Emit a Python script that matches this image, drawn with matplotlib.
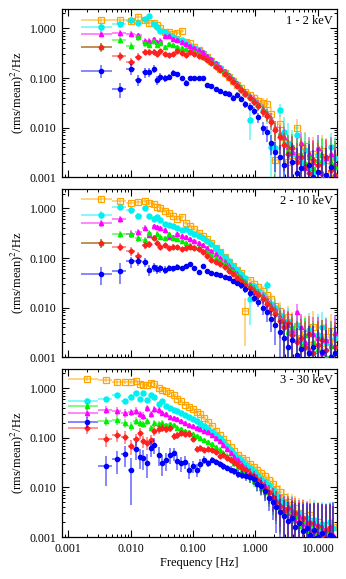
import numpy as np
import matplotlib
matplotlib.use("Agg")
import matplotlib.pyplot as plt
import matplotlib.ticker as ticker
from matplotlib.colors import to_rgba

plt.rcParams['font.family'] = ['Liberation Serif', 'DejaVu Serif']
plt.rcParams['mathtext.fontset'] = 'stix'

# frequency bins (Hz)
FREQ_A = [0.0033, 0.0067, 0.010, 0.0133, 0.0167, 0.020, 0.0233, 0.0267, 0.030, 0.035,
          0.041, 0.048, 0.056, 0.066, 0.077, 0.090, 0.105, 0.123, 0.144, 0.168,
          0.197, 0.23, 0.27, 0.32, 0.37, 0.43, 0.51, 0.59, 0.69, 0.81,
          0.95, 1.11, 1.30, 1.52, 1.78, 2.08, 2.43, 2.85, 3.33, 3.9,
          4.56, 5.3, 6.2, 7.3, 8.5, 10.0, 11.7, 13.7, 16.0, 18.7]
FREQ_B = [0.002, 0.004, 0.006, 0.008, 0.010, 0.012, 0.014, 0.016, 0.018, 0.021,
          0.024, 0.028, 0.032, 0.037, 0.043, 0.049, 0.056, 0.065, 0.075, 0.086,
          0.099, 0.114, 0.131, 0.151, 0.174, 0.20, 0.23, 0.265, 0.305, 0.35,
          0.40, 0.46, 0.53, 0.61, 0.70, 0.81, 0.93, 1.07, 1.23, 1.42,
          1.63, 1.88, 2.16, 2.48, 2.86, 3.3, 3.8, 4.35, 5.0, 5.8,
          6.6, 7.6, 8.8, 10.1, 11.6, 13.4, 15.4, 17.7]

PANEL_LABELS = ['1 - 2 keV', '2 - 10 keV', '3 - 30 keV']
COLORS = ['#ffa500', '#00f0f0', '#ff00ff', '#00ee00', '#ff2020', '#0000ff']
MARKERS = ['s', 'o', '^', '^', 'D', 'o']

# ---- panel 1: 1 - 2 keV  (power, error in %)
P1_ORANGE = [1.45, 1.48, 1.40, 1.68, 1.45, 1.28, 1.28, 1.18, 1.02, 0.84,
             0.86, 0.76, 0.80, 0.88, 0.52, 0.50, 0.42, 0.36, 0.31, 0.26,
             0.22, 0.18, 0.15, 0.125, 0.105, 0.088, 0.072, 0.062, 0.052, 0.046,
             0.040, 0.034, 0.031, 0.030, 0.019, 0.0022, 0.012, 0.0065, 0.0020, 0.0028,
             0.0100, 0.0027, 0.0042, 0.0018, 0.0030, 0.0016, 0.0034, 0.0022, 0.0012, 0.0026]
P1_ORANGE_ERR = [18, 15, 15, 12, 12, 12, 12, 12, 12, 10,
                 10, 10, 10, 10, 10, 10, 10, 10, 10, 10,
                 10, 10, 10, 11, 12, 12, 13, 14, 15, 16,
                 18, 20, 25, 30, 40, 200, 50, 80, 200, 150,
                 50, 150, 90, 200, 120, 250, 110, 180, 300, 150]
P1_CYAN = [1.05, 1.20, 1.45, 1.30, 1.55, 1.75, 1.20, 1.05, 0.90, 0.85,
           0.72, 0.68, 0.62, 0.58, 0.50, 0.45, 0.40, 0.36, 0.32, 0.27,
           0.23, 0.19, 0.16, 0.13, 0.11, 0.090, 0.072, 0.058, 0.048, 0.014,
           0.034, 0.028, 0.022, 0.018, 0.0040, 0.0038, 0.023, 0.0080, 0.0050, 0.0030,
           0.0070, 0.0020, 0.0035, 0.0015, 0.0012, 0.0028, 0.0020, 0.0009, 0.0040, 0.0024]
P1_CYAN_ERR = [15, 15, 15, 12, 12, 10, 12, 12, 12, 10,
               10, 10, 10, 10, 10, 10, 10, 10, 10, 10,
               10, 10, 10, 11, 12, 12, 13, 14, 15, 60,
               18, 22, 25, 35, 150, 150, 30, 100, 150, 200,
               60, 200, 120, 250, 300, 150, 200, 350, 90, 160]
P1_MAGENTA = [0.78, 0.80, 0.78, 0.72, 0.56, 0.55, 0.60, 0.53, 0.56, 0.70,
              0.70, 0.62, 0.58, 0.52, 0.48, 0.44, 0.40, 0.37, 0.33, 0.28,
              0.24, 0.20, 0.17, 0.14, 0.115, 0.095, 0.078, 0.063, 0.052, 0.043,
              0.036, 0.030, 0.024, 0.019, 0.015, 0.010, 0.0075, 0.0065, 0.0040, 0.0032,
              0.0025, 0.0048, 0.0015, 0.0030, 0.0020, 0.0038, 0.0012, 0.0024, 0.0030, 0.0018]
P1_MAGENTA_ERR = [15, 15, 14, 14, 14, 14, 12, 12, 12, 10,
                  10, 10, 10, 10, 10, 10, 10, 10, 10, 10,
                  10, 10, 10, 11, 12, 12, 13, 14, 15, 16,
                  18, 20, 22, 25, 30, 35, 50, 60, 80, 100,
                  150, 70, 200, 120, 180, 90, 250, 150, 120, 200]
P1_GREEN = [0.43, 0.58, 0.45, 0.66, 0.50, 0.47, 0.55, 0.46, 0.50, 0.42,
            0.48, 0.46, 0.42, 0.40, 0.38, 0.35, 0.33, 0.30, 0.27, 0.24,
            0.21, 0.18, 0.15, 0.13, 0.11, 0.090, 0.075, 0.062, 0.051, 0.042,
            0.035, 0.029, 0.023, 0.018, 0.014, 0.0095, 0.0070, 0.0050, 0.0035, 0.0042,
            0.0022, 0.0030, 0.0019, 0.0026, 0.0015, 0.0022, 0.0028, 0.0011, 0.0020, 0.0016]
P1_GREEN_ERR = [20, 16, 16, 14, 14, 14, 12, 12, 12, 12,
                11, 10, 10, 10, 10, 10, 10, 10, 10, 10,
                10, 10, 10, 11, 12, 12, 13, 14, 15, 16,
                18, 20, 22, 25, 30, 40, 50, 70, 90, 80,
                150, 110, 180, 130, 220, 160, 120, 300, 190, 230]
P1_RED = [0.42, 0.28, 0.21, 0.27, 0.34, 0.34, 0.34, 0.30, 0.35, 0.30,
          0.29, 0.30, 0.35, 0.32, 0.29, 0.33, 0.30, 0.28, 0.26, 0.23,
          0.20, 0.17, 0.145, 0.12, 0.10, 0.085, 0.070, 0.058, 0.048, 0.040,
          0.033, 0.027, 0.021, 0.017, 0.013, 0.0090, 0.0065, 0.0045, 0.0030, 0.0038,
          0.0020, 0.0026, 0.0016, 0.0012, 0.0022, 0.0018, 0.0009, 0.0025, 0.0014, 0.0011]
P1_RED_ERR = [20, 20, 18, 16, 15, 14, 13, 12, 12, 12,
              11, 10, 10, 10, 10, 10, 10, 10, 10, 10,
              10, 10, 10, 11, 12, 12, 13, 14, 15, 16,
              18, 20, 22, 25, 30, 40, 55, 70, 100, 80,
              150, 120, 190, 250, 140, 170, 300, 130, 200, 260]
P1_BLUE = [0.14, 0.060, 0.155, 0.093, 0.130, 0.130, 0.155, 0.090, 0.105, 0.098,
           0.105, 0.128, 0.118, 0.098, 0.080, 0.100, 0.098, 0.102, 0.100, 0.072,
           0.068, 0.060, 0.055, 0.050, 0.048, 0.040, 0.046, 0.038, 0.030, 0.026,
           0.022, 0.016, 0.010, 0.0080, 0.0050, 0.0032, 0.0025, 0.0018, 0.0009, 0.0020,
           0.0012, 0.0015, 0.0008, 0.0018, 0.0010, 0.0013, 0.0007, 0.0011, 0.0016, 0.0009]
P1_BLUE_ERR = [30, 35, 25, 25, 22, 20, 20, 20, 18, 16,
               15, 14, 13, 12, 12, 11, 10, 10, 10, 10,
               10, 10, 10, 11, 12, 12, 13, 14, 16, 18,
               20, 22, 28, 35, 45, 60, 80, 120, 250, 140,
               220, 180, 300, 160, 260, 200, 350, 250, 180, 300]

# ---- panel 2: 2 - 10 keV
P2_ORANGE = [1.52, 1.40, 1.32, 1.33, 1.42, 1.30, 1.25, 1.08, 1.00, 0.90,
             0.80, 0.70, 0.62, 0.66, 0.52, 0.44, 0.38, 0.32, 0.28, 0.24,
             0.20, 0.16, 0.13, 0.105, 0.085, 0.070, 0.058, 0.050, 0.0085, 0.036,
             0.030, 0.026, 0.022, 0.018, 0.015, 0.011, 0.0085, 0.0050, 0.0065, 0.0032,
             0.0042, 0.0025, 0.0030, 0.0018, 0.0040, 0.0022, 0.0015, 0.0026, 0.0034, 0.0020]
P2_ORANGE_ERR = [12, 12, 12, 10, 10, 10, 10, 10, 10, 10,
                 10, 10, 10, 10, 10, 10, 10, 10, 10, 10,
                 10, 10, 10, 11, 12, 12, 13, 14, 80, 16,
                 18, 20, 22, 25, 30, 40, 55, 90, 70, 150,
                 100, 180, 130, 250, 110, 190, 280, 150, 120, 200]
P2_CYAN = [0.75, 1.08, 0.92, 0.70, 1.00, 0.70, 0.62, 0.66, 0.58, 0.48,
           0.46, 0.44, 0.40, 0.36, 0.38, 0.34, 0.30, 0.28, 0.25, 0.22,
           0.19, 0.16, 0.13, 0.105, 0.086, 0.070, 0.057, 0.047, 0.039, 0.015,
           0.027, 0.022, 0.018, 0.028, 0.012, 0.010, 0.0070, 0.0040, 0.0055, 0.0030,
           0.0045, 0.0022, 0.0016, 0.0035, 0.0012, 0.0028, 0.0040, 0.0019, 0.0010, 0.0025]
P2_CYAN_ERR = [18, 14, 14, 14, 12, 12, 12, 12, 12, 10,
               10, 10, 10, 10, 10, 10, 10, 10, 10, 10,
               10, 10, 10, 11, 12, 12, 13, 14, 15, 70,
               18, 20, 25, 22, 35, 40, 60, 110, 80, 160,
               90, 200, 280, 120, 300, 160, 100, 220, 350, 180]
P2_MAGENTA = [0.50, 0.60, 0.31, 0.33, 0.40, 0.29, 0.44, 0.42, 0.40, 0.36,
              0.27, 0.26, 0.30, 0.28, 0.26, 0.24, 0.22, 0.20, 0.18, 0.16,
              0.14, 0.12, 0.10, 0.085, 0.070, 0.058, 0.048, 0.040, 0.033, 0.028,
              0.024, 0.020, 0.017, 0.014, 0.011, 0.0090, 0.0065, 0.0055, 0.0045, 0.0035,
              0.0080, 0.0040, 0.0020, 0.0014, 0.0030, 0.0025, 0.0012, 0.0022, 0.0018, 0.0031]
P2_MAGENTA_ERR = [16, 15, 18, 16, 14, 14, 12, 12, 12, 12,
                  11, 10, 10, 10, 10, 10, 10, 10, 10, 10,
                  10, 10, 10, 11, 12, 12, 13, 14, 15, 16,
                  18, 20, 22, 25, 30, 35, 50, 60, 90, 110,
                  50, 90, 150, 220, 120, 160, 280, 170, 200, 120]
P2_GREEN = [0.20, 0.30, 0.31, 0.25, 0.23, 0.32, 0.26, 0.31, 0.27, 0.25,
            0.30, 0.25, 0.24, 0.22, 0.20, 0.18, 0.17, 0.16, 0.14, 0.13,
            0.115, 0.10, 0.088, 0.075, 0.064, 0.054, 0.045, 0.038, 0.032, 0.027,
            0.023, 0.019, 0.016, 0.013, 0.010, 0.0080, 0.0060, 0.0045, 0.0032, 0.0040,
            0.0022, 0.0018, 0.0028, 0.0012, 0.0020, 0.0015, 0.0024, 0.0010, 0.0017, 0.0013]
P2_GREEN_ERR = [20, 16, 16, 15, 15, 14, 13, 12, 12, 12,
                11, 10, 10, 10, 10, 10, 10, 10, 10, 10,
                10, 10, 10, 11, 12, 12, 13, 14, 15, 16,
                18, 20, 22, 25, 30, 40, 50, 70, 100, 80,
                150, 190, 120, 260, 170, 220, 140, 300, 200, 240]
P2_RED = [0.20, 0.17, 0.14, 0.11, 0.18, 0.19, 0.25, 0.20, 0.17, 0.18,
          0.16, 0.17, 0.165, 0.15, 0.16, 0.17, 0.16, 0.15, 0.13, 0.11,
          0.090, 0.085, 0.075, 0.066, 0.056, 0.048, 0.040, 0.034, 0.029, 0.025,
          0.021, 0.018, 0.015, 0.012, 0.0095, 0.0075, 0.0055, 0.0040, 0.0048, 0.0028,
          0.0020, 0.0024, 0.0016, 0.0030, 0.0012, 0.0018, 0.0022, 0.0014, 0.0009, 0.0016]
P2_RED_ERR = [20, 18, 20, 22, 16, 15, 13, 14, 14, 13,
              12, 11, 10, 10, 10, 10, 10, 10, 10, 10,
              10, 10, 10, 11, 12, 12, 13, 14, 15, 16,
              18, 20, 22, 25, 30, 40, 55, 75, 70, 120,
              170, 150, 230, 130, 280, 200, 160, 240, 320, 220]
P2_BLUE = [0.048, 0.054, 0.086, 0.088, 0.083, 0.058, 0.066, 0.060, 0.062, 0.058,
           0.064, 0.062, 0.066, 0.063, 0.068, 0.075, 0.062, 0.053, 0.070, 0.055,
           0.050, 0.047, 0.045, 0.042, 0.039, 0.034, 0.031, 0.028, 0.024, 0.020,
           0.016, 0.013, 0.010, 0.0080, 0.0060, 0.0045, 0.0032, 0.0024, 0.0016, 0.0022,
           0.0011, 0.0015, 0.0008, 0.0012, 0.0016, 0.0009, 0.0013, 0.0007, 0.0010, 0.0012]
P2_BLUE_ERR = [40, 45, 25, 22, 22, 25, 20, 20, 18, 18,
               15, 14, 13, 12, 12, 11, 11, 10, 10, 10,
               10, 10, 10, 11, 12, 12, 13, 14, 16, 18,
               20, 22, 28, 35, 45, 60, 80, 110, 200, 120,
               250, 180, 350, 260, 170, 300, 230, 400, 280, 250]

# ---- panel 3: 3 - 30 keV
P3_ORANGE = [1.55, 1.50, 1.32, 1.33, 1.34, 1.38, 1.20, 1.18, 1.15, 1.30,
             1.22, 1.00, 0.92, 0.88, 0.82, 0.72, 0.62, 0.55, 0.47, 0.42,
             0.38, 0.33, 0.30, 0.25, 0.21, 0.17, 0.14, 0.115, 0.095, 0.078,
             0.064, 0.054, 0.046, 0.040, 0.035, 0.030, 0.026, 0.023, 0.020, 0.017,
             0.014, 0.012, 0.0095, 0.0080, 0.0065, 0.0050, 0.0045, 0.0038, 0.0030, 0.0026,
             0.0022, 0.0028, 0.0018, 0.0020, 0.0015, 0.0017, 0.0013, 0.0016]
P3_ORANGE_ERR = [10, 10, 10, 10, 9, 9, 9, 9, 9, 9,
                 8, 8, 8, 8, 8, 8, 8, 8, 8, 8,
                 8, 8, 8, 8, 9, 9, 10, 10, 10, 10,
                 11, 12, 12, 13, 14, 15, 16, 18, 20, 22,
                 25, 28, 32, 38, 45, 55, 65, 80, 100, 120,
                 140, 110, 180, 160, 220, 190, 260, 200]
P3_CYAN = [0.56, 0.60, 0.72, 0.55, 0.68, 0.80, 0.62, 0.80, 0.58, 0.72,
           0.66, 0.48, 0.55, 0.44, 0.40, 0.37, 0.34, 0.31, 0.29, 0.26,
           0.24, 0.22, 0.19, 0.17, 0.15, 0.13, 0.115, 0.10, 0.085, 0.070,
           0.058, 0.048, 0.040, 0.034, 0.029, 0.025, 0.021, 0.018, 0.015, 0.013,
           0.011, 0.0090, 0.0070, 0.0055, 0.0048, 0.0035, 0.0040, 0.0025, 0.0030, 0.0020,
           0.0024, 0.0016, 0.0022, 0.0013, 0.0018, 0.0012, 0.0020, 0.0015]
P3_CYAN_ERR = [14, 12, 12, 12, 12, 10, 10, 10, 10, 10,
               10, 10, 9, 9, 9, 9, 9, 9, 9, 9,
               9, 9, 9, 9, 9, 10, 10, 10, 10, 11,
               11, 12, 13, 14, 15, 16, 18, 20, 22, 25,
               28, 32, 40, 50, 55, 75, 65, 110, 90, 150,
               120, 200, 150, 250, 180, 280, 160, 220]
P3_MAGENTA = [0.32, 0.37, 0.35, 0.32, 0.33, 0.35, 0.30, 0.28, 0.40, 0.30,
              0.38, 0.36, 0.32, 0.30, 0.26, 0.25, 0.24, 0.22, 0.20, 0.185,
              0.17, 0.16, 0.15, 0.14, 0.13, 0.115, 0.10, 0.085, 0.072, 0.060,
              0.050, 0.042, 0.035, 0.029, 0.024, 0.020, 0.017, 0.0145, 0.0125, 0.0105,
              0.0080, 0.0065, 0.0055, 0.0045, 0.0038, 0.0030, 0.0034, 0.0022, 0.0026, 0.0018,
              0.0020, 0.0014, 0.0019, 0.0012, 0.0016, 0.0010, 0.0014, 0.0011]
P3_MAGENTA_ERR = [22, 20, 20, 20, 18, 18, 18, 17, 16, 16,
                  15, 14, 13, 12, 12, 11, 11, 10, 10, 10,
                  10, 10, 10, 10, 10, 11, 11, 12, 12, 13,
                  14, 15, 16, 18, 20, 22, 25, 28, 32, 36,
                  40, 48, 55, 65, 80, 100, 85, 140, 110, 180,
                  150, 230, 160, 270, 190, 320, 220, 280]
P3_GREEN = [0.44, 0.22, 0.23, 0.20, 0.17, 0.22, 0.20, 0.19, 0.22, 0.16,
            0.20, 0.19, 0.20, 0.18, 0.19, 0.18, 0.16, 0.15, 0.14, 0.13,
            0.12, 0.11, 0.10, 0.092, 0.084, 0.075, 0.066, 0.058, 0.050, 0.043,
            0.037, 0.031, 0.026, 0.022, 0.019, 0.016, 0.0135, 0.0115, 0.0098, 0.0082,
            0.0068, 0.0056, 0.0046, 0.0038, 0.0030, 0.0034, 0.0022, 0.0026, 0.0017, 0.0021,
            0.0014, 0.0018, 0.0012, 0.0016, 0.0010, 0.0013, 0.0011, 0.0009]
P3_GREEN_ERR = [16, 22, 20, 20, 20, 18, 18, 17, 16, 16,
                15, 14, 13, 12, 12, 11, 11, 10, 10, 10,
                10, 10, 10, 10, 10, 11, 11, 12, 12, 13,
                14, 15, 16, 18, 20, 22, 25, 28, 32, 36,
                42, 50, 60, 70, 90, 80, 130, 110, 170, 140,
                200, 160, 250, 180, 300, 220, 260, 350]
P3_RED = [0.16, 0.093, 0.115, 0.105, 0.068, 0.095, 0.125, 0.085, 0.080, 0.090,
          0.14, 0.15, 0.16, 0.15, 0.155, 0.108, 0.115, 0.125, 0.12, 0.12,
          0.095, 0.060, 0.063, 0.058, 0.060, 0.058, 0.052, 0.044, 0.046, 0.040,
          0.036, 0.032, 0.028, 0.025, 0.022, 0.019, 0.017, 0.014, 0.0115, 0.0095,
          0.0080, 0.0065, 0.0052, 0.0042, 0.0034, 0.0038, 0.0025, 0.0030, 0.0020, 0.0024,
          0.0015, 0.0019, 0.0013, 0.0017, 0.0011, 0.0014, 0.0016, 0.0010]
P3_RED_ERR = [25, 30, 28, 28, 35, 28, 24, 28, 28, 25,
              22, 20, 18, 17, 16, 18, 16, 14, 13, 12,
              12, 14, 13, 12, 12, 12, 12, 13, 13, 14,
              15, 16, 17, 18, 20, 22, 25, 28, 32, 36,
              42, 50, 60, 70, 85, 75, 120, 100, 160, 130,
              200, 160, 250, 180, 300, 220, 200, 320]
P3_BLUE = [0.21, 0.027, 0.037, 0.047, 0.022, 0.060, 0.042, 0.040, 0.031, 0.063,
           0.072, 0.046, 0.031, 0.036, 0.046, 0.049, 0.034, 0.031, 0.033, 0.023,
           0.027, 0.023, 0.030, 0.036, 0.031, 0.036, 0.033, 0.030, 0.027, 0.025,
           0.023, 0.021, 0.019, 0.018, 0.017, 0.016, 0.015, 0.012, 0.0105, 0.0085,
           0.0060, 0.0050, 0.0040, 0.0032, 0.0026, 0.0021, 0.0024, 0.0016, 0.0019, 0.0013,
           0.0015, 0.0011, 0.0014, 0.0010, 0.0012, 0.0009, 0.0011, 0.0010]
P3_BLUE_ERR = [25, 60, 50, 45, 80, 40, 45, 45, 50, 35,
               35, 40, 45, 40, 35, 30, 35, 35, 30, 35,
               28, 30, 22, 18, 16, 15, 15, 15, 15, 15,
               15, 16, 17, 18, 20, 22, 25, 28, 32, 38,
               45, 55, 70, 85, 110, 140, 120, 200, 160, 260,
               220, 330, 250, 380, 290, 420, 330, 400]

PANELS = [
    (FREQ_A, [(P1_ORANGE, P1_ORANGE_ERR), (P1_CYAN, P1_CYAN_ERR), (P1_MAGENTA, P1_MAGENTA_ERR),
              (P1_GREEN, P1_GREEN_ERR), (P1_RED, P1_RED_ERR), (P1_BLUE, P1_BLUE_ERR)]),
    (FREQ_A, [(P2_ORANGE, P2_ORANGE_ERR), (P2_CYAN, P2_CYAN_ERR), (P2_MAGENTA, P2_MAGENTA_ERR),
              (P2_GREEN, P2_GREEN_ERR), (P2_RED, P2_RED_ERR), (P2_BLUE, P2_BLUE_ERR)]),
    (FREQ_B, [(P3_ORANGE, P3_ORANGE_ERR), (P3_CYAN, P3_CYAN_ERR), (P3_MAGENTA, P3_MAGENTA_ERR),
              (P3_GREEN, P3_GREEN_ERR), (P3_RED, P3_RED_ERR), (P3_BLUE, P3_BLUE_ERR)]),
]


def bin_halfwidths(f):
    f = np.asarray(f)
    mid = (f[:-1] + f[1:]) / 2
    lo = np.concatenate([[f[0] - (mid[0] - f[0])], mid])
    hi = np.concatenate([mid, [f[-1] + (f[-1] - mid[-1])]])
    return f - lo, hi - f


fig = plt.figure(figsize=(3.46, 5.79), dpi=100)
bottoms = [0.694, 0.383, 0.0725]

for i, (freq, series) in enumerate(PANELS):
    ax = fig.add_axes([0.18, bottoms[i], 0.793, 0.291])
    f = np.asarray(freq)
    xlo, xhi = bin_halfwidths(f)
    for k, (vals, pct) in enumerate(series):
        y = np.asarray(vals)
        err = y * np.asarray(pct) / 100.0
        lo = np.minimum(err, y * 0.999)
        c = COLORS[k]
        if k == 0:
            kw = dict(mfc='none', mew=0.9, ms=3.8)
        elif k == 1:
            kw = dict(mfc=c, mec=c, ms=3.6)
        elif k == 4:
            kw = dict(mfc=c, mec=c, ms=2.6)
        else:
            kw = dict(mfc=c, mec=c, ms=3.0)
        ax.errorbar(f, y, yerr=[lo, err], xerr=[xlo, xhi], fmt=MARKERS[k], color=c,
                    ecolor=to_rgba(c, 0.6), elinewidth=1.1, capsize=0, zorder=2 + k, **kw)

    ax.set_xscale('log')
    ax.set_yscale('log')
    ax.set_xlim(0.0008, 20)
    ax.set_ylim(0.001, 2.5)
    ax.xaxis.set_major_locator(ticker.LogLocator(base=10, numticks=10))
    ax.xaxis.set_minor_locator(ticker.LogLocator(base=10, subs=np.arange(2, 10), numticks=20))
    ax.yaxis.set_major_locator(ticker.LogLocator(base=10, numticks=10))
    ax.yaxis.set_minor_locator(ticker.LogLocator(base=10, subs=np.arange(2, 10), numticks=20))
    ax.yaxis.set_major_formatter(ticker.FormatStrFormatter('%.3f'))
    ax.yaxis.set_minor_formatter(ticker.NullFormatter())
    ax.xaxis.set_minor_formatter(ticker.NullFormatter())
    if i == 2:
        ax.xaxis.set_major_formatter(ticker.FormatStrFormatter('%.3f'))
        ax.set_xlabel('Frequency [Hz]', fontsize=9, labelpad=2)
    else:
        ax.xaxis.set_major_formatter(ticker.NullFormatter())
    ax.tick_params(which='both', direction='in', top=True, right=True, labelsize=8.5, pad=4)
    ax.tick_params(which='major', length=5, width=0.8)
    ax.tick_params(which='minor', length=2.5, width=0.7)
    for s in ax.spines.values():
        s.set_linewidth(0.9)
    ax.set_ylabel('(rms/mean)$^2$/Hz', fontsize=9, labelpad=3)
    ax.text(0.985, 0.965, PANEL_LABELS[i], transform=ax.transAxes, ha='right', va='top', fontsize=9)

fig.savefig('out.png', dpi=100)
